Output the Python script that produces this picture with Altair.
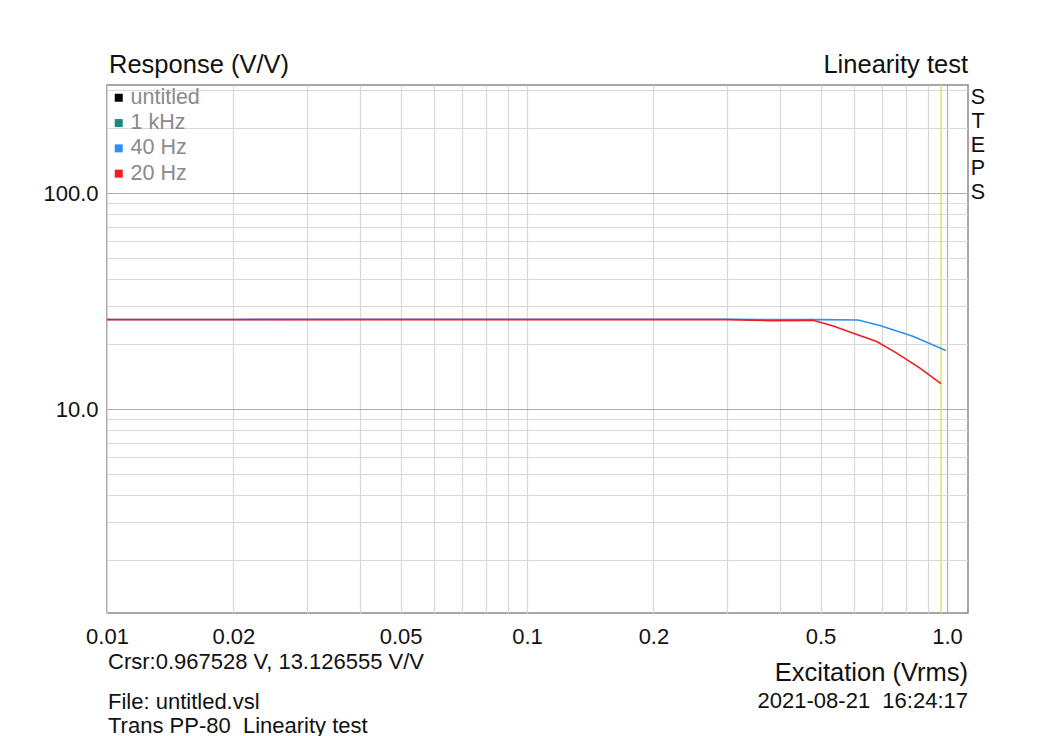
import altair as alt
import pandas as pd

# ---- data ----
series_names = ["untitled", "1 kHz", "40 Hz", "20 Hz"]
series_colors = ["#000000", "#1a8a80", "#2f8ff2", "#ee1c24"]

x_40hz = [0.01, 0.02, 0.05, 0.1, 0.2, 0.3, 0.4, 0.5, 0.614, 0.692, 0.832, 0.993]
y_40hz = [26.05, 26.05, 26.1, 26.1, 26.1, 26.1, 26.0, 26.0, 25.9, 24.4, 21.7, 18.7]

x_20hz = [0.01, 0.02, 0.05, 0.1, 0.2, 0.3, 0.38, 0.48, 0.536, 0.610, 0.680, 0.759, 0.862, 0.9675]
y_20hz = [26.0, 26.0, 26.0, 26.0, 26.0, 26.0, 25.7, 25.8, 24.3, 22.2, 20.6, 18.2, 15.5, 13.13]

cursor_x = [0.967528]

x_grid = [0.01, 0.02, 0.03, 0.04, 0.05, 0.06, 0.07, 0.08, 0.09,
          0.1, 0.2, 0.3, 0.4, 0.5, 0.6, 0.7, 0.8, 0.9, 1.0]
x_labels = [0.01, 0.02, 0.05, 0.1, 0.2, 0.5, 1.0]
y_grid = [2, 3, 4, 5, 6, 7, 8, 9, 10, 20, 30, 40, 50, 60, 70, 80, 90, 100, 200, 300]
y_labels = [10, 100]

x_domain = [0.01, 1.122]
y_domain = [1.14, 317]

FONT = "Liberation Sans"
W, H = 861, 528
BODY = 22
BIG = 25.5
NB = "\u00a0"

rows = []
for x, y in zip(x_40hz, y_40hz):
    rows.append({"series": "40 Hz", "x": x, "y": y})
for x, y in zip(x_20hz, y_20hz):
    rows.append({"series": "20 Hz", "x": x, "y": y})
df = pd.DataFrame(rows)

xlab_js = "[" + ",".join(str(v) for v in x_labels) + "]"
ylab_js = "[" + ",".join(str(v) for v in y_labels) + "]"

x_scale = alt.Scale(type="log", domain=x_domain, nice=False)
y_scale = alt.Scale(type="log", domain=y_domain, nice=False)

x_axis = alt.Axis(
    title=None, values=x_grid, grid=True, ticks=False, domain=False,
    labelExpr=f"datum.value == 1 ? '1.0' : (indexof({xlab_js}, datum.value) >= 0 ? toString(datum.value) : '')",
    labelFontSize=BODY, labelFont=FONT, labelColor="#111", labelPadding=13,
    labelFlush=False, labelOverlap=False, labelBound=False,
    gridColor={"condition": {"test": "datum.value == 1", "value": "#b0b0b0"}, "value": "#d8d8d8"},
    gridWidth=1.2,
)
y_axis = alt.Axis(
    title=None, values=y_grid, grid=True, ticks=False, domain=False,
    labelExpr=f"indexof({ylab_js}, datum.value) >= 0 ? format(datum.value, '.1f') : ''",
    labelFontSize=BODY, labelFont=FONT, labelColor="#111", labelPadding=9,
    labelFlush=False, labelOverlap=False,
    gridColor={"condition": {"test": "datum.value == 10 || datum.value == 100", "value": "#ababab"}, "value": "#d8d8d8"},
    gridWidth=1.2,
)

color_scale = alt.Scale(domain=series_names, range=series_colors)

lines = alt.Chart(df).mark_line(strokeWidth=1.6, clip=True).encode(
    x=alt.X("x:Q", scale=x_scale, axis=x_axis),
    y=alt.Y("y:Q", scale=y_scale, axis=y_axis),
    color=alt.Color(
        "series:N", scale=color_scale, sort=series_names,
        legend=alt.Legend(
            title=None, orient="none", legendX=1, legendY=2,
            symbolType="square", symbolSize=4, symbolStrokeWidth=6,
            labelFontSize=21.5, labelFont=FONT, labelColor="#8a8a8a",
            labelOffset=1, rowPadding=-1.7, padding=0,
        ),
    ),
    order=alt.Order("x:Q"),
)

cursor_df = pd.DataFrame({"x": cursor_x})
cursor = alt.Chart(cursor_df).mark_rule(color="#e4dc74", strokeWidth=1.5).encode(
    x=alt.X("x:Q", scale=x_scale),
)

one = pd.DataFrame({"a": [0]})


def label(text, x, y, size=BODY, align="left", color="#111"):
    return alt.Chart(one).mark_text(
        text=text, align=align, baseline="middle", font=FONT,
        fontSize=size, color=color,
    ).encode(x=alt.value(x), y=alt.value(y))


texts = [
    label("Response (V/V)", 2, -20, BIG),
    label("Linearity test", W, -20, BIG, align="right"),
    label("Crsr:0.967528 V, 13.126555 V/V", 1, 577),
    label("File: untitled.vsl", 1, 617),
    label(f"Trans PP-80 {NB}Linearity test", 1, 641),
    label("Excitation (Vrms)", W, 588, BIG, align="right"),
    label(f"2021-08-21 {NB}16:24:17", W, 616, align="right"),
]

steps = alt.Chart(one).mark_text(
    text=["S", "T", "E", "P", "S"], align="center", baseline="top",
    font=FONT, fontSize=21.5, color="#111", lineHeight=23.8,
).encode(x=alt.value(W + 10), y=alt.value(2))

chart = alt.layer(cursor, lines, steps, *texts).properties(
    width=W, height=H,
    padding={"left": 99, "top": 77, "right": 40, "bottom": 130},
    autosize=alt.AutoSizeParams(type="none"),
    background="white",
).configure_view(stroke="#8a8a8a", strokeWidth=1.5)

chart.save("out.html", embed_options={"renderer": "svg", "actions": False})
